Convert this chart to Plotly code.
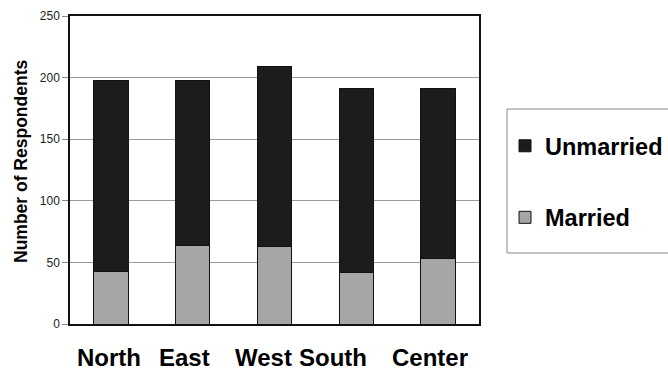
import plotly.graph_objects as go

# Survey respondents by region, split by marital status
regions = ["North", "East", "West", "South", "Center"]
married = [43, 64, 63, 42, 53]
unmarried = [155, 134, 146, 149, 138]
y_ticks = [0, 50, 100, 150, 200, 250]

# horizontal nudges (px) for the hand-placed region labels
label_shift = [-2, -8, -11, -23, -8]

FONT = "Liberation Sans, Arial, sans-serif"

fig = go.Figure()
fig.add_trace(go.Bar(
    x=regions, y=married, name="<b>Married</b>", legendgroup="m", legendrank=2,
    marker=dict(color="#a6a6a6", line=dict(color="#111", width=1)),
    width=0.42,
))
fig.add_trace(go.Bar(
    x=regions, y=unmarried, name="<b>Unmarried</b>", legendgroup="u", legendrank=1,
    marker=dict(color="#1c1c1c", line=dict(color="#111", width=1)),
    width=0.42,
))

for r, dx in zip(regions, label_shift):
    fig.add_annotation(
        x=r, y=0, xref="x", yref="paper", yanchor="top", xanchor="center",
        yshift=-18, xshift=dx, text=f"<b>{r}</b>", showarrow=False,
        font=dict(family=FONT, size=24, color="#000"),
    )

# y-axis title placed as rotated text beside the tick labels
fig.add_annotation(
    x=(21 - 70) / 409, y=(324 - 162) / 308, xref="paper", yref="paper",
    xanchor="center", yanchor="middle", textangle=-90, showarrow=False,
    text="<b>Number of Respondents</b>",
    font=dict(family=FONT, size=17.5, color="#000"),
)

# legend frame
fig.add_shape(type="rect", xref="paper", yref="paper",
              x0=(507 - 70) / 409, x1=(690 - 70) / 409,
              y0=(324 - 253) / 308, y1=(324 - 109) / 308,
              line=dict(color="#888", width=1), fillcolor="rgba(0,0,0,0)")

fig.update_layout(
    barmode="stack",
    width=668, height=371,
    margin=dict(l=70, r=189, t=16, b=47, autoexpand=False),
    paper_bgcolor="white", plot_bgcolor="white",
    font=dict(family=FONT, color="#000"),
    showlegend=True,
    legend=dict(
        x=(505 - 70) / 409, y=(324 - 124) / 308, xanchor="left", yanchor="top",
        traceorder="grouped", tracegroupgap=38,
        font=dict(family=FONT, size=23.5, color="#000"),
        bgcolor="rgba(0,0,0,0)", borderwidth=0,
    ),
    xaxis=dict(
        range=[-0.5, 4.5], showticklabels=False, ticks="",
        showline=True, linecolor="#111", linewidth=1.5, mirror=True,
        showgrid=False,
    ),
    yaxis=dict(
        range=[0, 250], tickvals=y_ticks, showgrid=True, gridcolor="#9a9a9a",
        gridwidth=1, ticks="outside", ticklen=6, tickcolor="#888",
        tickfont=dict(family=FONT, size=12, color="#222"),
        showline=True, linecolor="#111", linewidth=1.5, mirror=True,
        zeroline=False,
    ),
)

fig.write_html("out.html")
